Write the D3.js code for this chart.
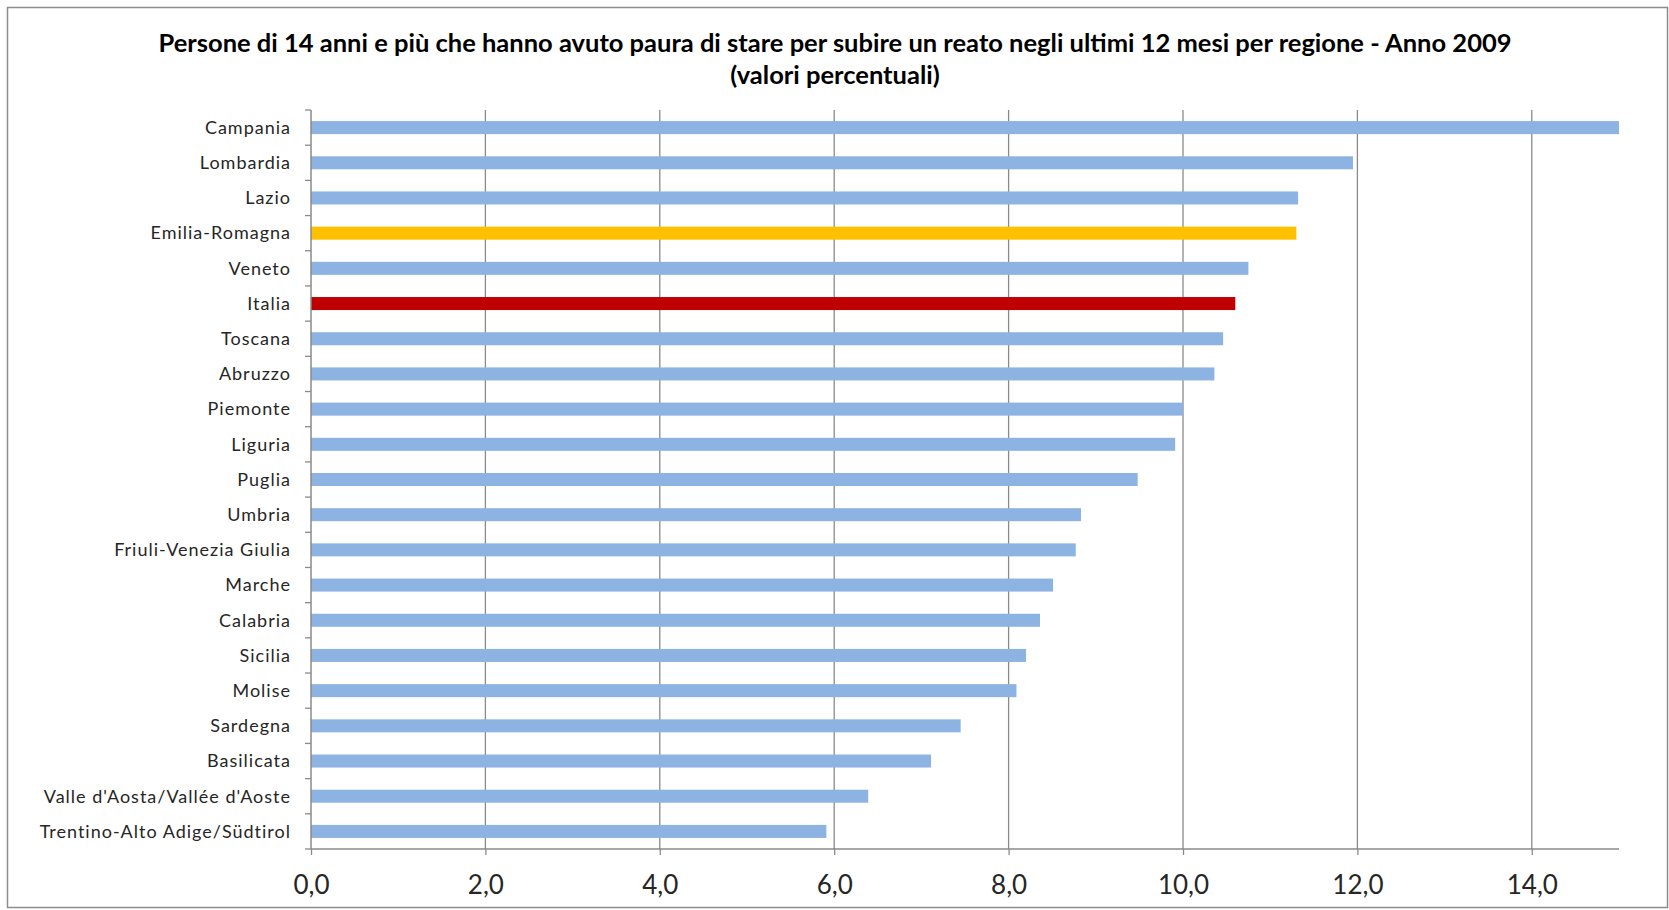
<!DOCTYPE html>
<html>
<head>
<meta charset="utf-8">
<script src="https://cdn.jsdelivr.net/npm/d3@7"></script>
<style>
  body { margin: 0; background: #fff; }
  svg { display: block; }
  .cat-label { font-family: Lato, "Open Sans", sans-serif; font-size: 18px; letter-spacing: 1px; fill: #262626; }
  .x-axis text { font-family: Lato, "Open Sans", sans-serif; font-size: 26px; fill: #262626; }
  .title { font-family: Lato, "Open Sans", sans-serif; font-weight: bold; font-size: 25.5px; fill: #000; }
</style>
</head>
<body>
<div class="display"></div>
<script>
// Persone di 14 anni e più che hanno avuto paura ... per regione, 2009

const WIDTH = 1669;
const HEIGHT = 910;

const regions = [
  'Campania', 'Lombardia', 'Lazio', 'Emilia-Romagna', 'Veneto', 'Italia',
  'Toscana', 'Abruzzo', 'Piemonte', 'Liguria', 'Puglia', 'Umbria',
  'Friuli-Venezia Giulia', 'Marche', 'Calabria', 'Sicilia', 'Molise',
  'Sardegna', 'Basilicata', "Valle d'Aosta/Vallée d'Aoste", 'Trentino-Alto Adige/Südtirol'
];
const values = [
  15.0, 11.95, 11.32, 11.3, 10.75, 10.6,
  10.46, 10.36, 10.0, 9.91, 9.48, 8.83,
  8.77, 8.51, 8.36, 8.2, 8.09,
  7.45, 7.11, 6.39, 5.91
];
const highlight = { 'Emilia-Romagna': '#FFC000', 'Italia': '#C00000' };
const xTicks = [0, 2, 4, 6, 8, 10, 12, 14];
const titleLines = [
  'Persone di 14 anni e più che hanno avuto paura di stare per subire un reato negli ultimi 12 mesi per regione - Anno 2009',
  '(valori percentuali)'
];

const data = regions.map((r, i) => ({ region: r, value: values[i] }));

const plot = { left: 311, right: 1619, top: 110, bottom: 849 };

const svg = d3.select('.display')
  .append('svg')
  .attr('width', WIDTH)
  .attr('height', HEIGHT);

svg.append('rect')
  .attr('x', 0).attr('y', 0)
  .attr('width', WIDTH).attr('height', HEIGHT)
  .attr('fill', '#fff');

// chart frame
svg.append('rect')
  .attr('x', 7.5).attr('y', 7.5)
  .attr('width', 1660).attr('height', 900)
  .attr('fill', 'none')
  .attr('stroke', '#8c8c8c')
  .attr('stroke-width', 1.5);

svg.selectAll('.title')
  .data(titleLines)
  .enter()
  .append('text')
  .attr('class', 'title')
  .attr('x', 835)
  .attr('y', (d, i) => 52 + i * 32)
  .attr('text-anchor', 'middle')
  .text(d => d);

const x = d3.scaleLinear()
  .domain([0, 15])
  .range([plot.left, plot.right]);

const y = d3.scaleBand()
  .domain(regions)
  .range([plot.top, plot.bottom])
  .paddingInner(0.63)
  .paddingOuter(0.315);

// vertical gridlines
svg.append('g')
  .selectAll('line')
  .data(xTicks.filter(d => d > 0))
  .enter()
  .append('line')
  .attr('x1', d => x(d)).attr('x2', d => x(d))
  .attr('y1', plot.top).attr('y2', plot.bottom)
  .attr('stroke', '#8a8a8a')
  .attr('stroke-width', 1.3);

// bars
svg.append('g')
  .selectAll('rect')
  .data(data)
  .enter()
  .append('rect')
  .attr('x', x(0))
  .attr('y', d => y(d.region))
  .attr('width', d => x(d.value) - x(0))
  .attr('height', y.bandwidth())
  .attr('fill', d => highlight[d.region] || '#8DB3E2');

// x axis
const xAxis = svg.append('g')
  .attr('class', 'x-axis')
  .attr('transform', `translate(0,${plot.bottom})`)
  .call(d3.axisBottom(x)
    .tickValues(xTicks)
    .tickSize(6)
    .tickFormat(d => d.toFixed(1).replace('.', ',')));
xAxis.select('.domain')
  .attr('d', `M${plot.left},0H${plot.right}`)
  .attr('stroke', '#8a8a8a')
  .attr('stroke-width', 1.5);
xAxis.selectAll('.tick line').attr('stroke', '#8a8a8a').attr('stroke-width', 1.3);
xAxis.selectAll('.tick text').attr('dy', 0).attr('y', 45);

// y axis line and ticks at category boundaries
const yAxis = svg.append('g');
yAxis.append('line')
  .attr('x1', x(0)).attr('x2', x(0))
  .attr('y1', plot.top).attr('y2', plot.bottom)
  .attr('stroke', '#8a8a8a')
  .attr('stroke-width', 1.5);
const step = y.step();
yAxis.selectAll('.ytick')
  .data(d3.range(regions.length + 1))
  .enter()
  .append('line')
  .attr('class', 'ytick')
  .attr('x1', x(0) - 6).attr('x2', x(0))
  .attr('y1', i => plot.top + i * step)
  .attr('y2', i => plot.top + i * step)
  .attr('stroke', '#8a8a8a')
  .attr('stroke-width', 1.3);

yAxis.selectAll('.cat-label')
  .data(data)
  .enter()
  .append('text')
  .attr('class', 'cat-label')
  .attr('x', 291)
  .attr('y', d => y(d.region) + y.bandwidth() / 2)
  .attr('dy', '0.35em')
  .attr('text-anchor', 'end')
  .text(d => d.region);
</script>
</body>
</html>
